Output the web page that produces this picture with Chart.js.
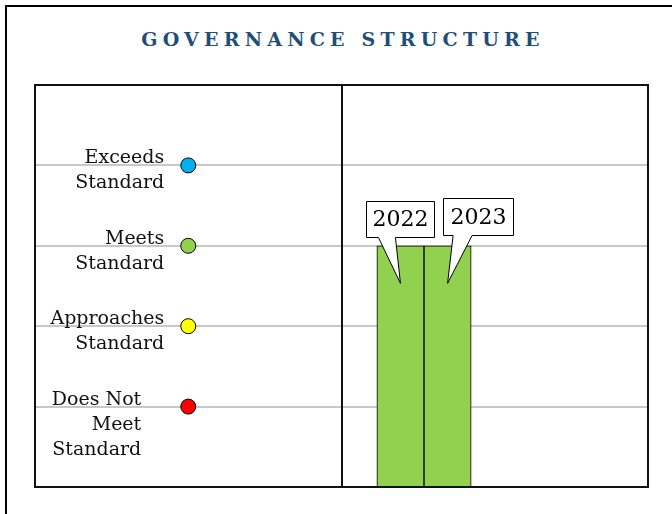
<!DOCTYPE html>
<html>
<head>
<meta charset="utf-8">
<script src="https://cdn.jsdelivr.net/npm/chart.js@4.4.1/dist/chart.umd.min.js"></script>
<style>
  html, body { margin: 0; padding: 0; background: #fff; overflow: hidden; }
  #frame { position: absolute; left: 5px; top: 5px; width: 690px; height: 540px; border: 2px solid #000; box-sizing: border-box; }
  #title { position: absolute; left: 0; top: 28px; width: 681px; padding-left: 5px; box-sizing: border-box;
           text-align: center; font: bold 19px "DejaVu Serif", serif; letter-spacing: 5.2px; color: #1F4E79; }
  #chart { position: absolute; left: 0; top: 0; }
</style>
</head>
<body>
<div id="frame"></div>
<div id="title">GOVERNANCE STRUCTURE</div>
<canvas id="chart" width="672" height="514"></canvas>
<script>
// rating levels, bottom to top
const levelNames = [
  ["Does Not", "Meet", "Standard"],
  ["Approaches", "Standard"],
  ["Meets", "Standard"],
  ["Exceeds", "Standard"]
];
const levelValues = [1, 2, 3, 4];
const levelColors = ["#FF0000", "#FFFF00", "#92D050", "#00B0F0"];

// yearly ratings (3 = Meets Standard)
const years = ["2022", "2023"];
const scores = [3, 3];

// layout on the x scale
const dotX = 2.5;
const firstBarX = 7;

const levelLabels = {
  id: "levelLabels",
  afterDatasetsDraw(chart, args, opts) {
    const { ctx, scales: { x, y } } = chart;
    ctx.save();
    ctx.font = opts.font;
    ctx.fillStyle = opts.color;
    ctx.textAlign = "right";
    ctx.textBaseline = "alphabetic";
    levelNames.forEach((lines, i) => {
      const py = y.getPixelForValue(levelValues[i]);
      const px = x.getPixelForValue(dotX) - opts.gap[i];
      lines.forEach((t, j) => ctx.fillText(t, px, py - 2 + j * opts.lineHeight));
    });
    ctx.restore();
  }
};

const plotFrame = {
  id: "plotFrame",
  afterDraw(chart) {
    const { ctx, chartArea: a } = chart;
    ctx.save();
    ctx.strokeStyle = "#111";
    ctx.lineWidth = 2;
    ctx.strokeRect(a.left, a.top, a.right - a.left, a.bottom - a.top);
    const mid = Math.round((a.left + a.right) / 2);
    ctx.beginPath();
    ctx.moveTo(mid, a.top);
    ctx.lineTo(mid, a.bottom);
    ctx.stroke();
    ctx.restore();
  }
};

const callouts = {
  id: "callouts",
  afterDraw(chart, args, opts) {
    const ctx = chart.ctx;
    const meta = chart.getDatasetMeta(0);
    ctx.save();
    meta.data.forEach((bar, i) => {
      const c = opts.boxes[i];
      const tx = bar.x, ty = bar.y + opts.drop;
      const l = Math.round(tx + c.dx - c.w / 2) + 0.5, r = l + c.w;
      const b = Math.round(ty - c.rise) + 0.5, t = b - c.h;
      ctx.beginPath();
      ctx.moveTo(l, t);
      ctx.lineTo(r, t);
      ctx.lineTo(r, b);
      ctx.lineTo(tx + c.base[1], b);
      ctx.lineTo(tx, ty);
      ctx.lineTo(tx + c.base[0], b);
      ctx.lineTo(l, b);
      ctx.closePath();
      ctx.fillStyle = "#fff";
      ctx.fill();
      ctx.strokeStyle = "#000";
      ctx.lineWidth = 1;
      ctx.stroke();
      ctx.fillStyle = "#000";
      ctx.font = opts.font;
      ctx.textAlign = "center";
      ctx.textBaseline = "middle";
      ctx.fillText(years[i], (l + r) / 2, (t + b) / 2 + 1);
    });
    ctx.restore();
  }
};

new Chart(document.getElementById("chart"), {
  type: "bar",
  data: {
    datasets: [
      {
        label: "Rating",
        data: years.map((yr, i) => ({ x: firstBarX + i, y: scores[i] })),
        backgroundColor: "#92D050",
        borderColor: "#000",
        borderWidth: 1,
        barPercentage: 1,
        categoryPercentage: 1
      },
      {
        type: "scatter",
        label: "Levels",
        data: levelValues.map(v => ({ x: dotX, y: v })),
        pointRadius: 7.5,
        pointBackgroundColor: levelColors,
        pointBorderColor: "#000",
        pointBorderWidth: 1
      }
    ]
  },
  options: {
    responsive: false,
    animation: false,
    events: [],
    layout: { padding: { left: 35, top: 85, right: 24, bottom: 27 } },
    scales: {
      x: { type: "linear", min: -0.75, max: 12.25, offset: false, display: false },
      y: {
        min: 0,
        max: 5,
        ticks: { display: false, stepSize: 1 },
        grid: { drawTicks: false, color: "#c8c8c8", lineWidth: 2 },
        border: { display: false }
      }
    },
    plugins: {
      legend: { display: false },
      tooltip: { enabled: false },
      levelLabels: { font: '19px "DejaVu Serif", serif', color: "#111", lineHeight: 25, gap: [47, 24, 24, 24] },
      callouts: {
        font: '22px "DejaVu Serif", serif',
        drop: 37.5,
        boxes: [
          { dx: 0, w: 68, h: 36, rise: 46, base: [-22, -5] },
          { dx: 30.5, w: 70, h: 37, rise: 48, base: [5.5, 24.5] }
        ]
      }
    }
  },
  plugins: [levelLabels, plotFrame, callouts]
});
</script>
</body>
</html>
